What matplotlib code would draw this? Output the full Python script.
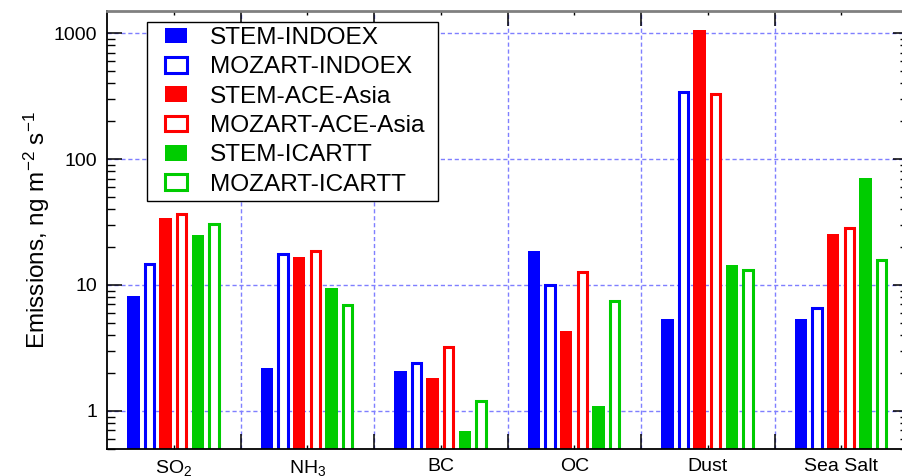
import numpy as np
import matplotlib.pyplot as plt
from matplotlib.ticker import FixedLocator, LogLocator, NullFormatter, FixedFormatter
from matplotlib.legend_handler import HandlerPatch, update_from_first_child
from matplotlib.container import BarContainer
from matplotlib.patches import Rectangle

plt.rcParams['font.family'] = ['Liberation Sans', 'DejaVu Sans']
plt.rcParams['mathtext.fontset'] = 'custom'
plt.rcParams['mathtext.rm'] = 'Liberation Sans'
plt.rcParams['mathtext.it'] = 'Liberation Sans:italic'
plt.rcParams['mathtext.default'] = 'regular'

# Especies y campanas
especies = ['SO$_2$', 'NH$_3$', 'BC', 'OC', 'Dust', 'Sea Salt']
campanas = ['STEM-INDOEX', 'MOZART-INDOEX', 'STEM-ACE-Asia',
            'MOZART-ACE-Asia', 'STEM-ICARTT', 'MOZART-ICARTT']

# Emisiones (ng m-2 s-1)
stem_indoex = [8.1, 2.2, 2.08, 18.7, 5.4, 5.4]
mozart_indoex = [14.7, 17.6, 2.38, 9.9, 343, 6.6]
stem_ace = [34.3, 16.8, 1.81, 4.33, 1055, 25.6]
mozart_ace = [36.7, 18.6, 3.23, 12.6, 328, 28.4]
stem_icartt = [24.7, 9.5, 0.69, 1.10, 14.3, 70.1]
mozart_icartt = [30.6, 6.9, 1.19, 7.5, 13.2, 15.8]

series = [stem_indoex, mozart_indoex, stem_ace, mozart_ace, stem_icartt, mozart_icartt]
colores = ['#0000ff', '#0000ff', '#ff0000', '#ff0000', '#00cc00', '#00cc00']
relleno = [True, False, True, False, True, False]

fig = plt.figure(figsize=(9.03, 4.76), dpi=100)
ax = fig.add_axes([107/903, 27.3/476, 801/903, 437.7/476])

x = np.arange(len(especies))
paso = 0.121
base = 0.1  # las barras empiezan fuera del eje (log)
for j in range(6):
    pos = x + (j - 2.5)*paso
    alto = np.array(series[j]) - base
    if relleno[j]:
        ax.bar(pos, alto, width=0.093, bottom=base, color=colores[j],
               edgecolor='none', label=campanas[j])
    else:
        ax.bar(pos, alto, width=0.07, bottom=base, facecolor='white',
               edgecolor=colores[j], linewidth=2.2, label=campanas[j])

ax.set_yscale('log')
ax.set_ylim(0.5, 1500)
ax.set_xlim(-0.5, 5.5)

# ejes y ticks
ax.xaxis.set_major_locator(FixedLocator(x[:-1] + 0.5))
ax.xaxis.set_major_formatter(NullFormatter())
ax.xaxis.set_minor_locator(FixedLocator(x))
ax.xaxis.set_minor_formatter(FixedFormatter(especies))
ax.tick_params(axis='x', which='major', direction='in', top=True, length=11, width=1.1)
ax.tick_params(axis='x', which='minor', direction='in', top=True, length=3, width=1,
               labelsize=14, pad=6.5)

ax.yaxis.set_major_locator(FixedLocator([1, 10, 100, 1000]))
ax.yaxis.set_major_formatter(FixedFormatter(['1', '10', '100', '1000']))
ax.yaxis.set_minor_locator(LogLocator(base=10, subs=np.arange(2, 10)))
ax.yaxis.set_minor_formatter(NullFormatter())
ax.tick_params(axis='y', which='major', direction='in', right=True, length=11, width=1.1,
               labelsize=14, pad=7)
ax.tick_params(axis='y', which='minor', direction='in', right=True, length=6, width=1)

ax.set_axisbelow(True)
ax.grid(True, which='major', color='#7f7fff', linestyle=(0, (3, 2)), linewidth=1)

ax.spines['top'].set_color('#808080')
ax.spines['top'].set_linewidth(2)
for s in ['left', 'bottom', 'right']:
    ax.spines[s].set_linewidth(1.3)

ax.set_ylabel('Emissions, ng m$^{-2}$ s$^{-1}$', fontsize=17.5)
ax.yaxis.set_label_coords(-0.069, 0.5)


# cuadrito de la leyenda desplazado a la derecha
def caja(legend, orig_handle, xdescent, ydescent, width, height, fontsize):
    ancho = 0.9*fontsize
    return Rectangle((-xdescent + width - ancho, -ydescent), ancho, height)


leg = ax.legend(loc='upper left', bbox_to_anchor=(0.0503, 0.9756, 0.3625, 0),
                mode='expand', borderaxespad=0,
                fontsize=17.6, frameon=True, fancybox=False, edgecolor='black',
                handlelength=1.42, handleheight=0.62, handletextpad=0.93,
                labelspacing=0.3, borderpad=0.22,
                handler_map={BarContainer: HandlerPatch(patch_func=caja,
                                                        update_func=update_from_first_child)})
leg.get_frame().set_linewidth(1)
leg.get_frame().set_alpha(1)

plt.savefig('out.png', dpi=100)
